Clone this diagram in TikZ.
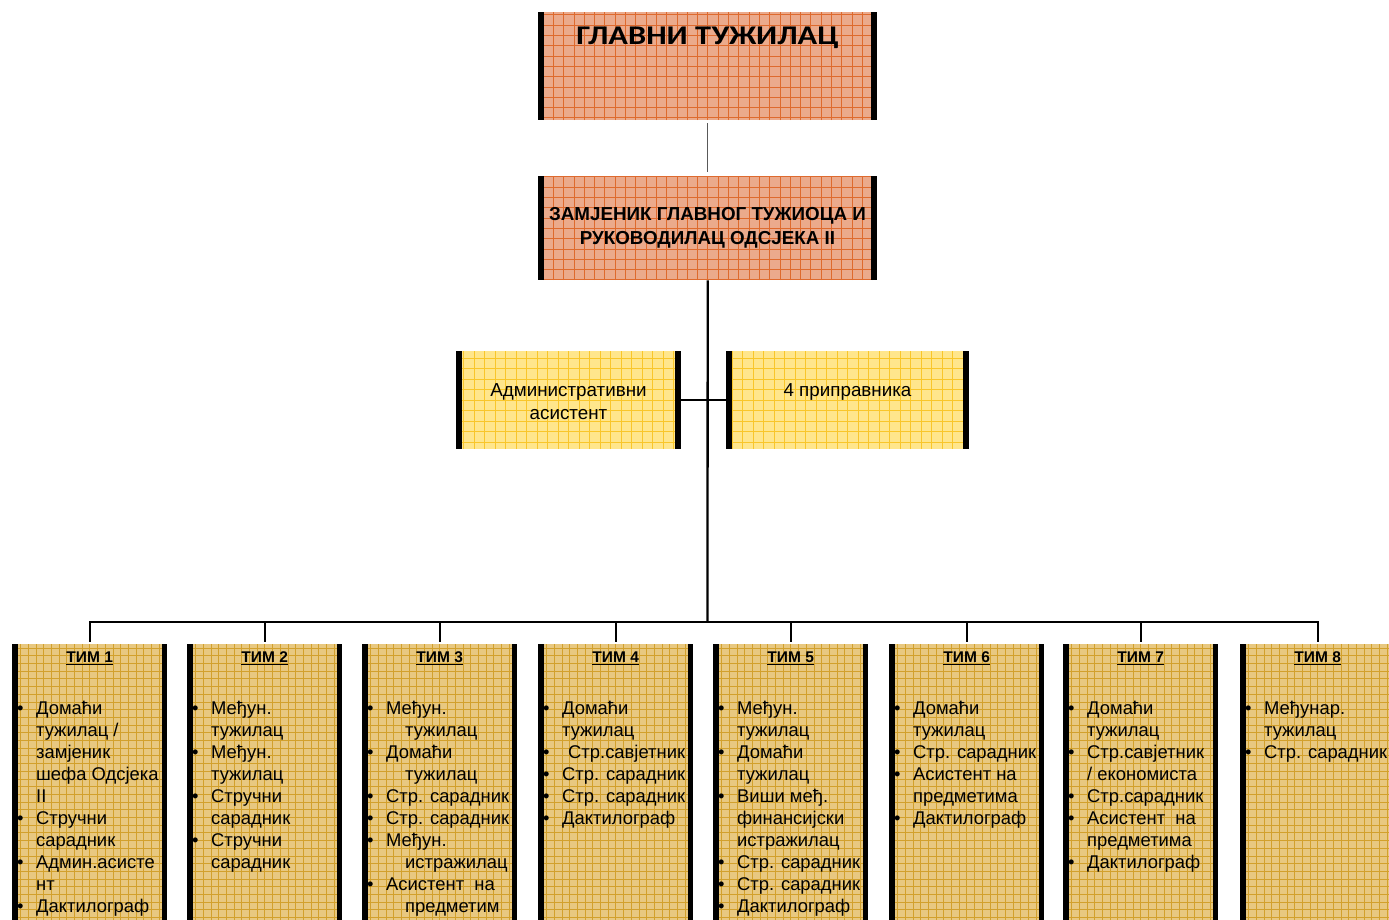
\documentclass[tikz,border=0pt]{standalone}
\usepackage{fontspec}
\setmainfont{Liberation Sans}
\newfontfamily\calfont{Carlito}
\definecolor{salfill}{HTML}{EBAA8C}
\definecolor{salgrid}{HTML}{DE6A2E}
\definecolor{yelfill}{HTML}{FFE68C}
\definecolor{yelgrid}{HTML}{F9C62A}
\definecolor{tanfill}{HTML}{E8C880}
\definecolor{tangrid}{HTML}{D2A02C}
\newcommand\bu{\makebox[19pt][l]{\textbullet}}
\newcommand\ct{\hspace*{19pt}}
\newcommand\ci{\hspace*{38pt}}
\tikzset{
  topbox/.style 2 args={draw=none, rectangle, inner sep=0pt, anchor=north west,
    minimum width=#1, minimum height=#2, fill=salfill,
    path picture={
      \draw[salgrid, line width=0.6pt] (path picture bounding box.south west) grid[step=10.3pt] (path picture bounding box.north east);
      \fill[black] (path picture bounding box.south west) rectangle ([xshift=6pt]path picture bounding box.north west);
      \fill[black] (path picture bounding box.south east) rectangle ([xshift=-6pt]path picture bounding box.north east);
    }},
  admbox/.style 2 args={draw=none, rectangle, inner sep=0pt, anchor=north west,
    minimum width=#1, minimum height=#2, fill=yelfill,
    path picture={
      \draw[yelgrid, line width=0.6pt] (path picture bounding box.south west) grid[step=10.5pt] (path picture bounding box.north east);
      \fill[black] (path picture bounding box.south west) rectangle ([xshift=6pt]path picture bounding box.north west);
      \fill[black] (path picture bounding box.south east) rectangle ([xshift=-6pt]path picture bounding box.north east);
    }},
  teambox/.style={draw=none, rectangle, inner sep=0pt, anchor=north west,
    minimum width=155pt, minimum height=300pt, fill=tanfill,
    path picture={
      \draw[tangrid, line width=0.6pt] (path picture bounding box.south west) grid[step=7.7pt] (path picture bounding box.north east);
      \fill[black] (path picture bounding box.south west) rectangle ([xshift=6pt]path picture bounding box.north west);
      \fill[black] (path picture bounding box.south east) rectangle ([xshift=-5pt]path picture bounding box.north east);
    }},
  thead/.style={anchor=base, inner sep=0pt, font=\bfseries\fontsize{15.5}{18}\selectfont},
  tlist/.style={anchor=north west, inner sep=0pt, font=\fontsize{18.4}{22}\selectfont},
  wire/.style={line width=2.3pt, black},
  tick/.style={line width=2pt, black}
}
\begin{document}
\begin{tikzpicture}[x=1pt, y=-1pt]
\useasboundingbox (0,0) rectangle (1389,919);
% top boxes
\node[topbox={339pt}{108pt}] (chief) at (538,12) {};
\node[anchor=base, inner sep=0pt, font=\calfont\bfseries\fontsize{27}{30}\selectfont] (chieft) at (707.5,44.5) {\scalebox{1.2}[1]{ГЛАВНИ ТУЖИЛАЦ}};
\node[topbox={339pt}{104pt}] (dep) at (538,176) {};
\node[anchor=north, inner sep=0pt, font=\bfseries\fontsize{18.8}{24}\selectfont] (dept) at (707.5,203.2)
  {\begin{tabular}{@{}c@{}}ЗАМЈЕНИК ГЛАВНОГ ТУЖИОЦА И\\РУКОВОДИЛАЦ ОДСЈЕКА II\end{tabular}};
% admin boxes
\node[admbox={225pt}{98pt}] (adm) at (456,351) {};
\node[anchor=north, inner sep=0pt, font=\fontsize{18.8}{23}\selectfont] (admt) at (568.5,380.4)
  {\begin{tabular}{@{}c@{}}Административни\\асистент\end{tabular}};
\node[admbox={243pt}{98pt}] (intern) at (726,351) {};
\node[anchor=base, inner sep=0pt, font=\fontsize{18.8}{23}\selectfont] (internt) at (847.5,396.5) {4 приправника};
% team boxes
\node[teambox] (t1) at (12,644) {};
\node[teambox] (t2) at (187,644) {};
\node[teambox] (t3) at (362,644) {};
\node[teambox] (t4) at (538,644) {};
\node[teambox] (t5) at (713,644) {};
\node[teambox] (t6) at (889,644) {};
\node[teambox] (t7) at (1063,644) {};
\node[teambox] (t8) at (1240,644) {};
% connectors
\coordinate (busc) at (707.5,622);
\draw[gray!70!black, line width=1pt, shorten <=3pt, shorten >=4pt] (chief.south) -- (dep.north);
\draw[wire] (dep.south) -- (busc);
\draw[wire] (adm.east) -- (intern.west);
\foreach \t in {t1,t2,t3,t4,t5,t6,t7,t8}{
  \draw[tick] (busc) -| ([yshift=2pt]\t.north);
}
\draw[wire] (busc) -- (busc -| t1.north);
\draw[wire] (busc) -- (busc -| t8.north);
% team headers
\foreach \t/\n in {t1/1,t2/2,t3/3,t4/4,t5/5,t6/6,t7/7,t8/8}{
  \node[thead] (\t h) at ([yshift=-18.7pt]\t.north) {\underline{ТИМ \n}};
}
% team lists
\node[tlist] (t1l) at ([xshift=5pt,yshift=-54.6pt]t1.north west) {\begin{tabular}{@{}l@{}}
\bu Домаћи\\ \ct тужилац /\\ \ct замјеник\\ \ct шефа Одсјека\\ \ct II\\
\bu Стручни\\ \ct сарадник\\ \bu Админ.асисте\\ \ct нт\\ \bu Дактилограф\end{tabular}};
\node[tlist] (t2l) at ([xshift=5pt,yshift=-54.6pt]t2.north west) {\begin{tabular}{@{}l@{}}
\bu Међун.\\ \ct тужилац\\ \bu Међун.\\ \ct тужилац\\
\bu Стручни\\ \ct сарадник\\ \bu Стручни\\ \ct сарадник\end{tabular}};
\node[tlist] (t3l) at ([xshift=5pt,yshift=-54.6pt]t3.north west) {\begin{tabular}{@{}l@{}}
\bu Међун.\\ \ci тужилац\\ \bu Домаћи\\ \ci тужилац\\
\bu Стр. сарадник\\ \bu Стр. сарадник\\ \bu Међун.\\ \ci истражилац\\
\bu Асистент\ \ на\\ \ci предметим\end{tabular}};
\node[tlist] (t4l) at ([xshift=5pt,yshift=-54.6pt]t4.north west) {\begin{tabular}{@{}l@{}}
\bu Домаћи\\ \ct тужилац\\ \bu \hspace*{6pt}Стр.савјетник\\ \bu Стр. сарадник\\ \bu Стр. сарадник\\
\bu Дактилограф\end{tabular}};
\node[tlist] (t5l) at ([xshift=5pt,yshift=-54.6pt]t5.north west) {\begin{tabular}{@{}l@{}}
\bu Међун.\\ \ct тужилац\\ \bu Домаћи\\ \ct тужилац\\ \bu Виши међ.\\ \ct финансијски\\ \ct истражилац\\
\bu Стр. сарадник\\ \bu Стр. сарадник\\ \bu Дактилограф\end{tabular}};
\node[tlist] (t6l) at ([xshift=5pt,yshift=-54.6pt]t6.north west) {\begin{tabular}{@{}l@{}}
\bu Домаћи\\ \ct тужилац\\ \bu Стр. сарадник\\ \bu Асистент на\\ \ct предметима\\
\bu Дактилограф\end{tabular}};
\node[tlist] (t7l) at ([xshift=5pt,yshift=-54.6pt]t7.north west) {\begin{tabular}{@{}l@{}}
\bu Домаћи\\ \ct тужилац\\ \bu Стр.савјетник\\ \ct / економиста\\ \bu Стр.сарадник\\
\bu Асистент\ \ на\\ \ct предметима\\ \bu Дактилограф\end{tabular}};
\node[tlist] (t8l) at ([xshift=5pt,yshift=-54.6pt]t8.north west) {\begin{tabular}{@{}l@{}}
\bu Међунар.\\ \ct тужилац\\ \bu Стр. сарадник\end{tabular}};
\end{tikzpicture}
\end{document}
